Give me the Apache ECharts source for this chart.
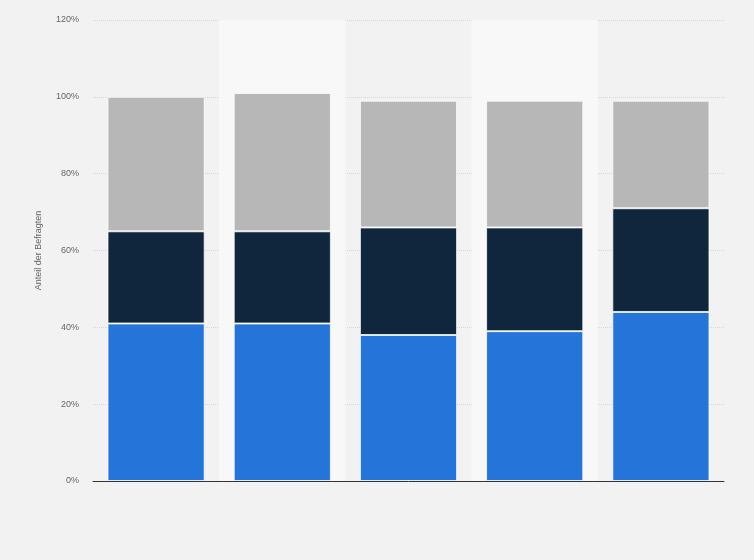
<!DOCTYPE html>
<html lang="de">
<head>
    <meta charset="UTF-8">
    <title>Anteil der Befragten</title>
    <style>
        html, body { margin: 0; padding: 0; background: #f2f2f2; }
        #main { width: 754px; height: 560px; }
    </style>
</head>
<body>
<div id="main"></div>
<script src="https://cdn.jsdelivr.net/npm/echarts@6/dist/echarts.min.js"></script>
<script>
    // Werte (Prozent)
    var categories = ['1', '2', '3', '4', '5'];
    var serieA = [41, 41, 38, 39, 44];   // blau
    var serieB = [24, 24, 28, 27, 27];   // dunkelblau
    var serieC = [35, 36, 33, 33, 28];   // grau
    var yTicks = [0, 20, 40, 60, 80, 100, 120];

    var myChart = echarts.init(document.getElementById('main'));

    function segment(name, data, color) {
        return {
            name: name,
            type: 'bar',
            stack: 'gesamt',
            data: data,
            barWidth: '77%',
            itemStyle: {
                color: color,
                borderColor: 'rgba(255,255,255,0.75)',
                borderWidth: 1
            }
        };
    }

    var option = {
        backgroundColor: '#f2f2f2',
        animation: false,
        grid: {
            left: 93,
            right: 30,
            top: 20,
            bottom: 79
        },
        xAxis: {
            type: 'category',
            data: categories,
            axisLine: { show: true, lineStyle: { color: '#333', width: 1 } },
            axisTick: { show: false },
            axisLabel: { show: false },
            splitArea: {
                show: true,
                areaStyle: { color: ['rgba(0,0,0,0)', '#f8f8f8'] }
            }
        },
        yAxis: {
            type: 'value',
            min: yTicks[0],
            max: yTicks[yTicks.length - 1],
            interval: 20,
            name: 'Anteil der Befragten',
            nameLocation: 'middle',
            nameGap: 50,
            nameTextStyle: { color: '#666', fontSize: 9, fontFamily: 'Arial, Liberation Sans, sans-serif' },
            axisLine: { show: false },
            axisTick: { show: false },
            axisLabel: {
                color: '#666',
                fontSize: 9,
                margin: 14,
                fontFamily: 'Arial, Liberation Sans, sans-serif',
                formatter: '{value}%'
            },
            splitLine: { lineStyle: { color: '#d8d8d8', type: 'dotted' } }
        },
        series: [
            segment('A', serieA, '#2574da'),
            segment('B', serieB, '#0f263d'),
            segment('C', serieC, '#b7b7b7')
        ]
    };
    myChart.setOption(option);
</script>
</body>
</html>
